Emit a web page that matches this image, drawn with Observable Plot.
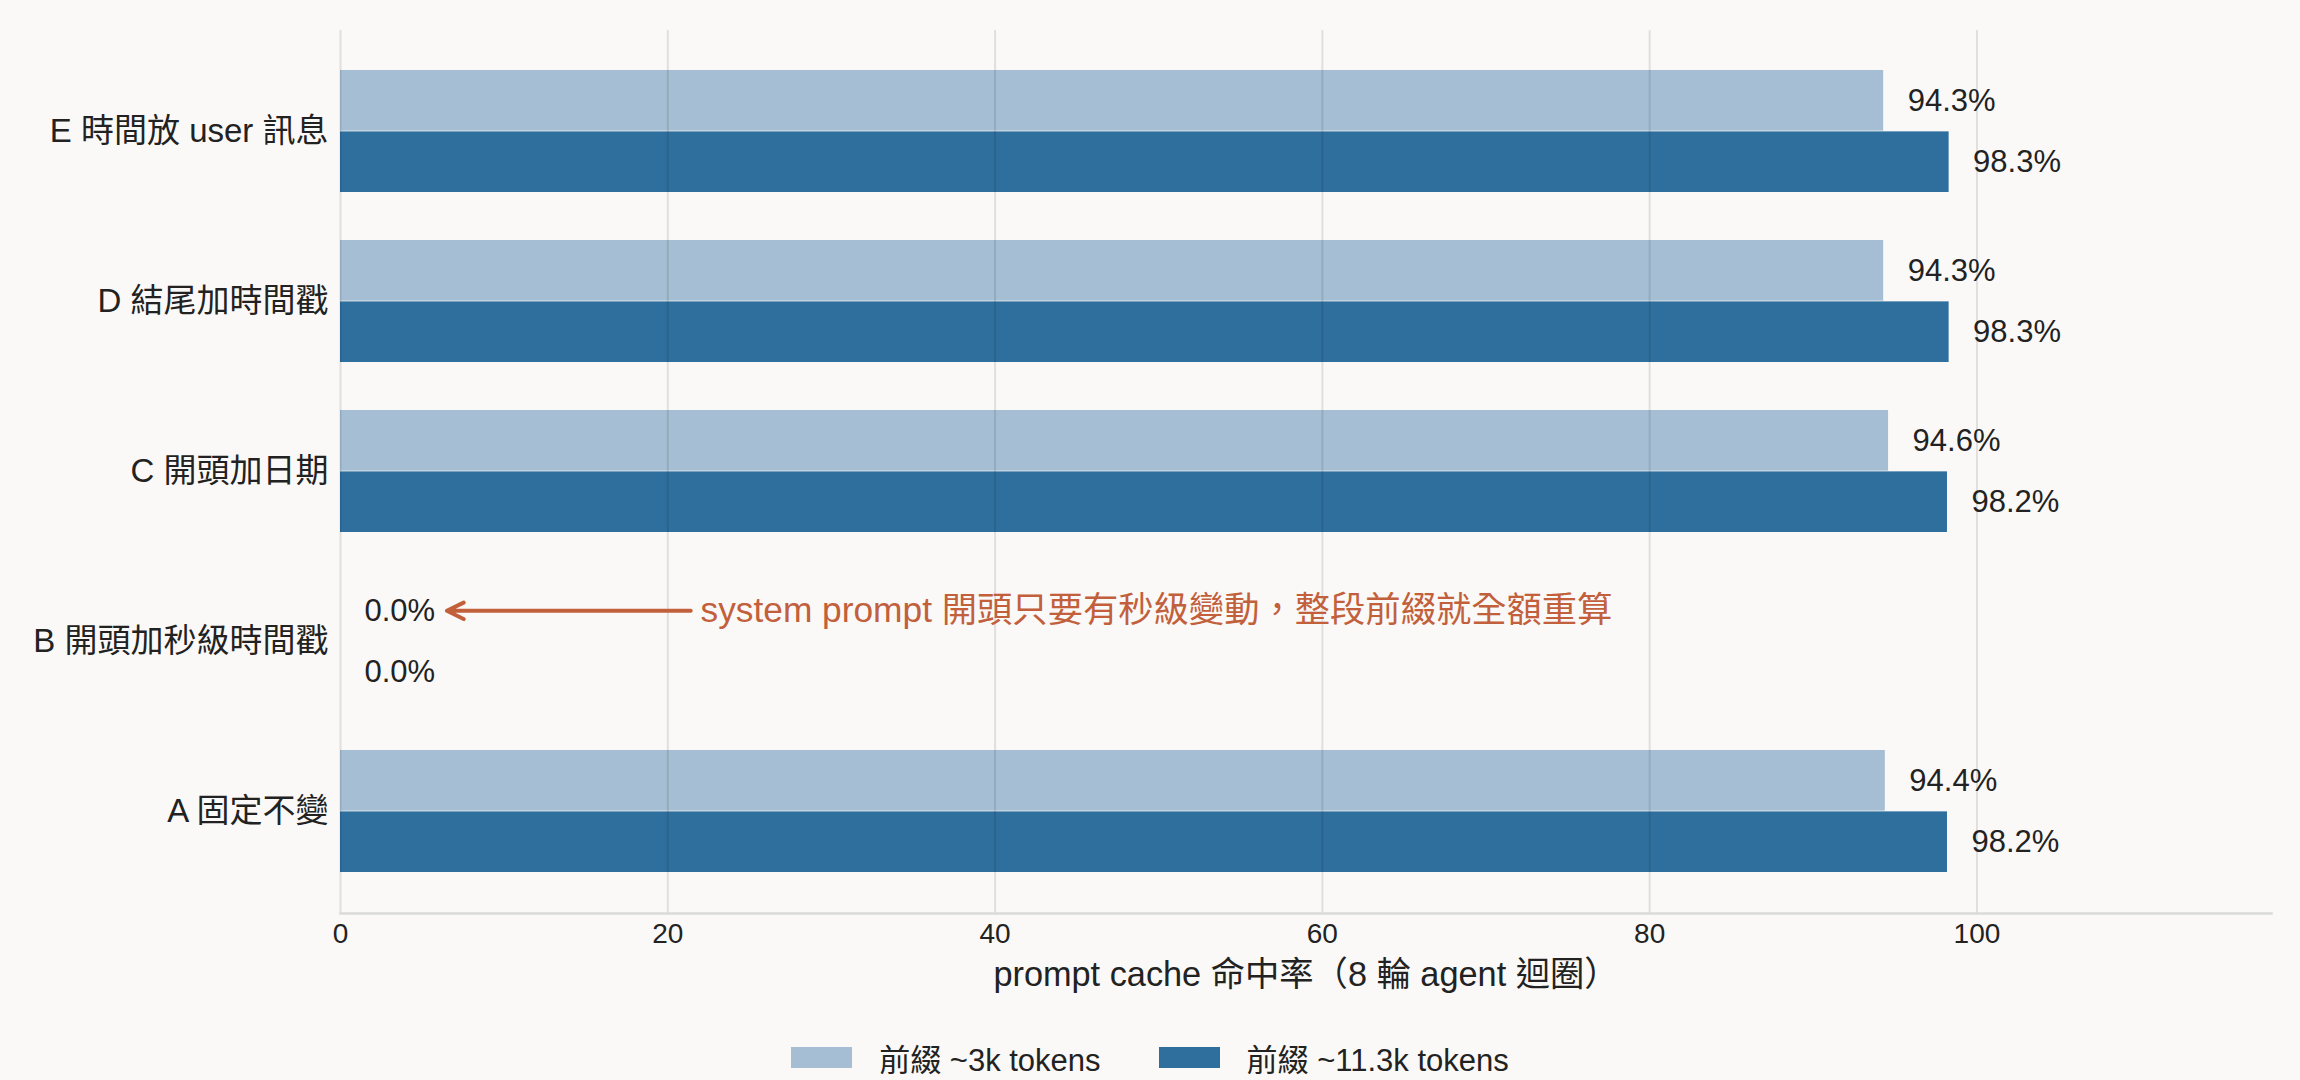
<!DOCTYPE html>
<html>
<head>
<meta charset="utf-8">
<script src="https://cdn.jsdelivr.net/npm/d3@7"></script>
<script src="https://cdn.jsdelivr.net/npm/@observablehq/plot@0.6"></script>
<style>
  html, body { margin: 0; padding: 0; background: #faf9f7; }
  #chart svg { display: block; }
  .legend { height: 60px; box-sizing: border-box; padding-top: 14px; display: flex; justify-content: center; align-items: center;
    font-family: "Liberation Sans", "Noto Sans CJK TC", sans-serif; font-size: 31px; color: #222; }
  .legend .item { display: flex; align-items: center; }
  .legend .sw { width: 61px; height: 21px; margin-right: 27px; }
  .legend .item + .item { margin-left: 58px; }
</style>
</head>
<body>
<div id="chart"></div>
<div class="legend" id="legend"></div>
<script>
const categories = ["A 固定不變", "B 開頭加秒級時間戳", "C 開頭加日期", "D 結尾加時間戳", "E 時間放 user 訊息"];
const series = ["前綴 ~3k tokens", "前綴 ~11.3k tokens"];
const valuesSmall = [94.4, 0.0, 94.6, 94.3, 94.3];
const valuesLarge = [98.2, 0.0, 98.2, 98.3, 98.3];
const xTicks = [0, 20, 40, 60, 80, 100];
const xLabel = "prompt cache 命中率（8 輪 agent 迴圈）";
const noteText = "system prompt 開頭只要有秒級變動，整段前綴就全額重算";
const noteCategory = "B 開頭加秒級時間戳";
const noteArrowFrom = 21.4;
const noteArrowTo = 6.5;
const noteTextX = 22;
const colors = ["#a5bed3", "#2f6f9e"];

const font = '"Liberation Sans", "Noto Sans CJK TC", sans-serif';
const W = 2300, H = 1020, mt = 30, mb = 107, ml = 340, mr = 29;
const pInner = 0.28, pOuter = 0.23;
const step = (H - mt - mb) / (categories.length - pInner + 2 * pOuter);
const bw = step * (1 - pInner);
const half = bw / 2;

const rowsSmall = categories.map((c, i) => ({cat: c, v: valuesSmall[i]}));
const rowsLarge = categories.map((c, i) => ({cat: c, v: valuesLarge[i]}));
const fmt = d => d.v.toFixed(1) + "%";

const plot = Plot.plot({
  width: W, height: H,
  marginTop: mt, marginBottom: mb, marginLeft: ml, marginRight: mr,
  style: {background: "#faf9f7", fontFamily: font, color: "#222"},
  x: {domain: [0, 118]},
  y: {domain: categories.slice().reverse(), paddingInner: pInner, paddingOuter: pOuter},
  marks: [
    Plot.barX(rowsSmall, {x: "v", y: "cat", fill: colors[0], insetBottom: half}),
    Plot.barX(rowsLarge, {x: "v", y: "cat", fill: colors[1], insetTop: half}),
    Plot.ruleX(xTicks, {stroke: "#000", strokeOpacity: 0.1, strokeWidth: 2}),
    Plot.frame({anchor: "bottom", stroke: "#dadada", strokeWidth: 2.5}),
    Plot.axisX({ticks: xTicks, tickSize: 0, tickPadding: 10, fontSize: 28, label: null, fill: "#222"}),
    Plot.axisY({tickSize: 0, tickPadding: 12, fontSize: 33, label: null, fill: "#222"}),
    Plot.text([xLabel], {frameAnchor: "bottom", dy: 62, fontSize: 34.3, fill: "#222", lineAnchor: "middle"}),
    Plot.text(rowsSmall, {x: "v", y: "cat", text: fmt, dx: 24, dy: -half / 2, textAnchor: "start", fontSize: 31, fill: "#222"}),
    Plot.text(rowsLarge, {x: "v", y: "cat", text: fmt, dx: 24, dy: half / 2, textAnchor: "start", fontSize: 31, fill: "#222"}),
    Plot.arrow([{cat: noteCategory}], {x1: () => noteArrowFrom, x2: () => noteArrowTo, y1: "cat", y2: "cat", dy: -half / 2,
      stroke: "#c2603c", strokeWidth: 4, headLength: 7, headAngle: 52}),
    Plot.text([{cat: noteCategory}], {x: () => noteTextX, y: "cat", text: () => noteText, dy: -half / 2, textAnchor: "start",
      fontSize: 35.3, fill: "#c2603c"})
  ]
});
document.getElementById("chart").appendChild(plot);

const legend = document.getElementById("legend");
series.forEach((s, i) => {
  const item = document.createElement("div");
  item.className = "item";
  const sw = document.createElement("div");
  sw.className = "sw";
  sw.style.background = colors[i];
  const t = document.createElement("span");
  t.textContent = s;
  item.appendChild(sw);
  item.appendChild(t);
  legend.appendChild(item);
});
</script>
</body>
</html>
